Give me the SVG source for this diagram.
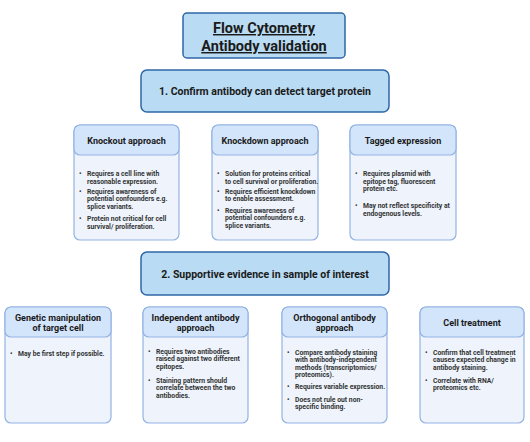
<svg xmlns="http://www.w3.org/2000/svg" width="530" height="442" viewBox="0 0 530 442">
<style>
.title{font-family:Roboto,"Liberation Sans",sans-serif;font-weight:bold;font-size:14.5px;fill:#1a1a1a;text-anchor:middle;text-decoration:underline}
.sec{font-family:Roboto,"Liberation Sans",sans-serif;font-weight:bold;font-size:10.5px;fill:#1a1a1a;text-anchor:middle}
.hd{font-family:Roboto,"Liberation Sans",sans-serif;font-weight:bold;font-size:9px;fill:#1a1a1a;text-anchor:middle}
.bt{font-family:Roboto,"Liberation Sans",sans-serif;font-weight:bold;font-size:6.8px;fill:#333}
.big{fill:#b9dbf3;stroke:#2e67a6;stroke-width:1.5}
.body{fill:#eef3fc;stroke:#93b4e3;stroke-width:1.2}
.head{fill:#d3e5fb;stroke:#93b4e3;stroke-width:1.2}
</style>
<rect width="530" height="442" fill="#fff"/>
<g id="title">
<rect class="big" x="183" y="13" width="162" height="45" rx="4"/>
<text class="title" x="264" y="33">Flow Cytometry</text>
<text class="title" x="264" y="51">Antibody validation</text>
</g>
<g id="connectors"></g>
<g id="step1">
<rect class="big" x="141" y="70" width="248" height="42" rx="6"/>
<text class="sec" x="265" y="95">1. Confirm antibody can detect target protein</text>
</g>
<g id="knockout">
<rect class="body" x="74" y="125" width="105" height="115" rx="6"/>
<rect class="head" x="74" y="125" width="105" height="30" rx="6"/>
<text class="hd" x="126.5" y="144">Knockout approach</text>
<text class="bt"><tspan x="79" y="175.5">•</tspan><tspan x="87" y="175.5">Requires a cell line with</tspan><tspan x="87" y="183.5">reasonable expression.</tspan>
<tspan x="79" y="193.5">•</tspan><tspan x="87" y="193.5">Requires awareness of</tspan><tspan x="87" y="201">potential confounders e.g.</tspan><tspan x="87" y="208.5">splice variants.</tspan>
<tspan x="79" y="220.5">•</tspan><tspan x="87" y="220.5">Protein not critical for cell</tspan><tspan x="87" y="228.5">survival/ proliferation.</tspan></text>
</g>
<g id="knockdown">
<rect class="body" x="212" y="125" width="106" height="115" rx="6"/>
<rect class="head" x="212" y="125" width="106" height="30" rx="6"/>
<text class="hd" x="265" y="144">Knockdown approach</text>
<text class="bt"><tspan x="217" y="175.5">•</tspan><tspan x="225" y="175.5">Solution for proteins critical</tspan><tspan x="225" y="183.5">to cell survival or proliferation.</tspan>
<tspan x="217" y="193.5">•</tspan><tspan x="225" y="193.5">Requires efficient knockdown</tspan><tspan x="225" y="201">to enable assessment.</tspan>
<tspan x="217" y="212.5">•</tspan><tspan x="225" y="212.5">Requires awareness of</tspan><tspan x="225" y="220">potential confounders e.g.</tspan><tspan x="225" y="227.5">splice variants.</tspan></text>
</g>
<g id="tagged">
<rect class="body" x="350" y="125" width="106" height="115" rx="6"/>
<rect class="head" x="350" y="125" width="106" height="30" rx="6"/>
<text class="hd" x="403" y="144">Tagged expression</text>
<text class="bt"><tspan x="355" y="175.5">•</tspan><tspan x="363" y="175.5">Requires plasmid with</tspan><tspan x="363" y="183.5">epitope tag, fluorescent</tspan><tspan x="363" y="191">protein etc.</tspan>
<tspan x="355" y="207.5">•</tspan><tspan x="363" y="207.5">May not reflect specificity at</tspan><tspan x="363" y="215.5">endogenous levels.</tspan></text>
</g>
<g id="step2">
<rect class="big" x="141" y="252" width="248" height="43" rx="6"/>
<text class="sec" x="265" y="277.5">2. Supportive evidence in sample of interest</text>
</g>
<g id="genetic">
<rect class="body" x="5" y="307" width="106" height="116" rx="6"/>
<rect class="head" x="5" y="307" width="106" height="30" rx="6"/>
<text class="hd" x="58" y="321">Genetic manipulation</text>
<text class="hd" x="58" y="331">of target cell</text>
<text class="bt"><tspan x="10" y="355.5">•</tspan><tspan x="18" y="355.5">May be first step if possible.</tspan></text>
</g>
<g id="independent">
<rect class="body" x="143" y="307" width="105" height="116" rx="6"/>
<rect class="head" x="143" y="307" width="105" height="30" rx="6"/>
<text class="hd" x="195.5" y="321">Independent antibody</text>
<text class="hd" x="195.5" y="331">approach</text>
<text class="bt"><tspan x="148" y="353.5">•</tspan><tspan x="156" y="353.5">Requires two antibodies</tspan><tspan x="156" y="361">raised against two different</tspan><tspan x="156" y="368.5">epitopes.</tspan>
<tspan x="148" y="382.5">•</tspan><tspan x="156" y="382.5">Staining pattern should</tspan><tspan x="156" y="390">correlate between the two</tspan><tspan x="156" y="397.5">antibodies.</tspan></text>
</g>
<g id="orthogonal">
<rect class="body" x="282" y="307" width="105" height="116" rx="6"/>
<rect class="head" x="282" y="307" width="105" height="30" rx="6"/>
<text class="hd" x="334.5" y="321">Orthogonal antibody</text>
<text class="hd" x="334.5" y="331">approach</text>
<text class="bt"><tspan x="287" y="354.5">•</tspan><tspan x="295" y="354.5">Compare antibody staining</tspan><tspan x="295" y="362">with antibody-independent</tspan><tspan x="295" y="369.5">methods (transcriptomics/</tspan><tspan x="295" y="377">proteomics).</tspan>
<tspan x="287" y="388.5">•</tspan><tspan x="295" y="388.5">Requires variable expression.</tspan>
<tspan x="287" y="401.5">•</tspan><tspan x="295" y="401.5">Does not rule out non-</tspan><tspan x="295" y="409">specific binding.</tspan></text>
</g>
<g id="treatment">
<rect class="body" x="420" y="307" width="104" height="116" rx="6"/>
<rect class="head" x="420" y="307" width="104" height="30" rx="6"/>
<text class="hd" x="472" y="326">Cell treatment</text>
<text class="bt"><tspan x="425" y="354.5">•</tspan><tspan x="433" y="354.5">Confirm that cell treatment</tspan><tspan x="433" y="362">causes expected change in</tspan><tspan x="433" y="369.5">antibody staining.</tspan>
<tspan x="425" y="382.5">•</tspan><tspan x="433" y="382.5">Correlate with RNA/</tspan><tspan x="433" y="390">proteomics etc.</tspan></text>
</g>
</svg>
